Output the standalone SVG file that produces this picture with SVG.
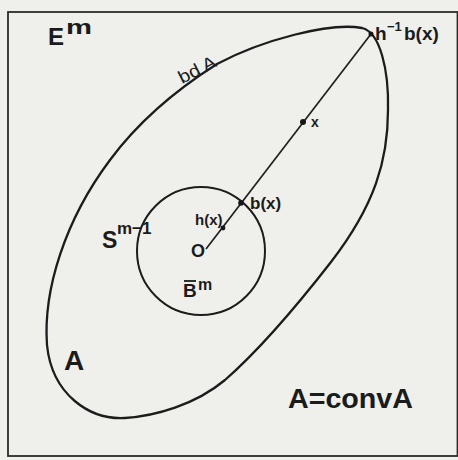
<svg xmlns="http://www.w3.org/2000/svg" width="458" height="460" viewBox="0 0 458 460">
<style>
.bg{fill:#efefeb}
.frame{fill:none;stroke:#2b2b2b;stroke-width:1.8}
.curve{fill:none;stroke:#1c1c1c;stroke-width:2.3;stroke-linejoin:round}
.circ{fill:none;stroke:#1c1c1c;stroke-width:2}
.conn{stroke:#1f1f1f;stroke-width:1.7;fill:none}
.dot{fill:#161616}
text{font-family:"Liberation Sans",Arial,sans-serif;fill:#1b1b1b;font-weight:bold}
.n{font-weight:normal}
</style>
<rect class="bg" width="458" height="460"/>
<rect class="frame" x="8" y="12" width="449.5" height="444"/>
<g id="space-Em">
<text x="48" y="45" font-size="24">E</text>
<text x="66" y="34" font-size="20" textLength="26" lengthAdjust="spacingAndGlyphs">m</text>
</g>
<g id="set-A">
<path class="curve" d="M217,64 C262,40 330,22 362,28 C380,32 389,70 388,110 C388,160 375,205 331,262 C310,289 265,345 225,380 C195,405 155,416 125,418 C90,420 52,395 47,345 C43,290 65,220 110,160 C130,133 160,100 217,64 Z"/>
<text class="n" font-size="18" textLength="40" lengthAdjust="spacingAndGlyphs" transform="translate(182,84) rotate(-27)">bd A</text>
<text x="64" y="370" font-size="28">A</text>
<text x="288" y="408" font-size="28" textLength="125" lengthAdjust="spacingAndGlyphs">A=convA</text>
</g>
<g id="ball-Bm">
<circle class="circ" cx="201" cy="251" r="64"/>
<text x="102" y="248" font-size="23">S</text>
<text x="117" y="234" font-size="17">m−1</text>
<text x="183" y="297" font-size="19">B</text>
<line x1="184" y1="281" x2="196" y2="281" stroke="#1b1b1b" stroke-width="1.8"/>
<text x="198" y="290" font-size="16">m</text>
</g>
<g id="connectors">
<line class="conn" x1="206" y1="249" x2="371" y2="34"/>
</g>
<g id="point-O">
<text x="191" y="257" font-size="18">O</text>
</g>
<g id="point-hx">
<circle class="dot" cx="223" cy="228" r="2.4"/>
<text x="195" y="225" font-size="15">h(x)</text>
</g>
<g id="point-bx">
<circle class="dot" cx="241" cy="203" r="2.8"/>
<text x="250" y="209" font-size="17">b(x)</text>
</g>
<g id="point-x">
<circle class="dot" cx="303" cy="122" r="3"/>
<text x="311" y="127" font-size="14">x</text>
</g>
<g id="point-h-inv">
<circle class="dot" cx="371" cy="34" r="2.5"/>
<text x="375" y="40" font-size="19">h</text>
<text x="387" y="31" font-size="13">−1</text>
<text x="404" y="40" font-size="19">b(x)</text>
</g>
</svg>
